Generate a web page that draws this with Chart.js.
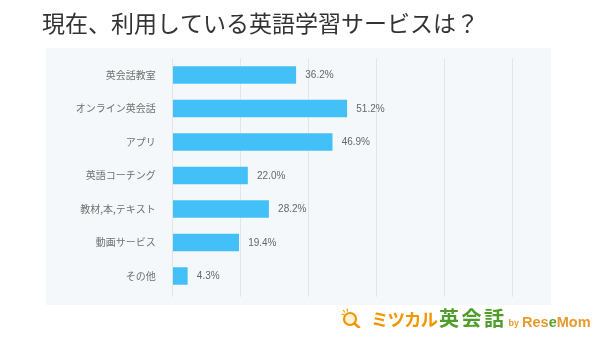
<!DOCTYPE html>
<html lang="ja">
<head>
<meta charset="utf-8">
<title>現在、利用している英語学習サービスは？</title>
<script src="https://cdn.jsdelivr.net/npm/chart.js@4"></script>
<style>
  html, body { margin: 0; padding: 0; background: #fff; }
  #wrap { position: relative; width: 600px; height: 338px; overflow: hidden; }
  #logo {
    position: absolute; left: 341px; top: 303px; height: 28px;
    display: flex; align-items: flex-end; white-space: nowrap;
    font-family: "Noto Sans CJK JP", "Noto Sans", sans-serif; font-weight: 700;
  }
  #logo svg { margin-right: 10px; margin-bottom: 3px; }
  #logo .mitsukaru { color: #f29600; font-size: 17.5px; letter-spacing: -1px; line-height: 24px; }
  #logo .eikaiwa { color: #4f9d2b; font-size: 20px; letter-spacing: 2.5px; line-height: 26px; margin-left: 2px; }
  #logo .by { color: #e79a2e; font-size: 9px; line-height: 16px; margin: 0 3px 0 2px; font-family: "Liberation Sans", sans-serif; }
  #logo .rese { color: #e79a2e; font-size: 14.5px; line-height: 18px; font-family: "Liberation Sans", sans-serif; }
  #logo .rese b { color: #5aa02c; }
</style>
</head>
<body>
<div id="wrap">
  <canvas id="chart" width="600" height="338"></canvas>
  <div id="logo">
    <svg width="20" height="20" viewBox="0 0 20 20">
      <circle cx="9" cy="11" r="6" fill="#fff3d6" stroke="#f29600" stroke-width="2.2"/>
      <line x1="13.5" y1="15.5" x2="18" y2="19.5" stroke="#f29600" stroke-width="2.6" stroke-linecap="round"/>
      <path d="M2 2 L4 4.5 M6 0.5 L6.5 3.5 M0.5 6 L3.5 6.5" stroke="#f29600" stroke-width="1.2"/>
    </svg>
    <span class="mitsukaru">ミツカル</span><span class="eikaiwa">英会話</span><span class="by">by</span><span class="rese">Res<b>e</b>Mom</span>
  </div>
</div>
<script>
const titleText = "現在、利用している英語学習サービスは？";
const categories = ["英会話教室", "オンライン英会話", "アプリ", "英語コーチング", "教材,本,テキスト", "動画サービス", "その他"];
const shares = [36.2, 51.2, 46.9, 22.0, 28.2, 19.4, 4.3];
const axisMin = 0;
const axisMax = 100;
const axisStep = 20;

const jpFont = '"Noto Sans CJK JP", "Noto Sans", sans-serif';

// light grey panel behind the plot
const panelBackground = {
  id: "panelBackground",
  beforeDraw(chart) {
    const { ctx } = chart;
    ctx.save();
    ctx.fillStyle = "#f5f8fa";
    ctx.fillRect(46, 48, 505, 257);
    ctx.restore();
  },
};

// percentage text to the right of every bar
const valueLabels = {
  id: "valueLabels",
  afterDatasetsDraw(chart) {
    const { ctx } = chart;
    const meta = chart.getDatasetMeta(0);
    ctx.save();
    ctx.font = '10px "Liberation Sans", Arial, sans-serif';
    ctx.fillStyle = "#666";
    ctx.textAlign = "left";
    ctx.textBaseline = "middle";
    meta.data.forEach((bar, i) => {
      ctx.fillText(shares[i].toFixed(1) + "%", bar.x + 9.5, bar.y + 0.5);
    });
    ctx.restore();
  },
};

new Chart(document.getElementById("chart"), {
  type: "bar",
  data: {
    labels: categories,
    datasets: [
      {
        data: shares,
        backgroundColor: "#43c0f8",
        barThickness: 17,
      },
    ],
  },
  options: {
    indexAxis: "y",
    responsive: false,
    animation: false,
    layout: { padding: { left: 42, right: 87.3, top: 0, bottom: 41.25 } },
    plugins: {
      legend: { display: false },
      tooltip: { enabled: false },
      title: {
        display: true,
        text: titleText,
        align: "start",
        color: "#333",
        font: { family: jpFont, size: 23, weight: "normal", lineHeight: 1.2 },
        padding: { top: 9.7, bottom: 20.95 },
      },
    },
    scales: {
      x: {
        min: axisMin,
        max: axisMax,
        ticks: { display: false, stepSize: axisStep },
        grid: { color: "#e2e6ea", lineWidth: 1, drawTicks: true, tickLength: 4 },
        border: { display: false },
      },
      y: {
        grid: { display: false, drawTicks: false },
        border: { display: false },
        ticks: {
          color: "#707070",
          padding: 17,
          font: { family: jpFont, size: 10 },
        },
        afterFit(scale) {
          scale.width = 130.7;
        },
      },
    },
  },
  plugins: [panelBackground, valueLabels],
});
</script>
</body>
</html>
